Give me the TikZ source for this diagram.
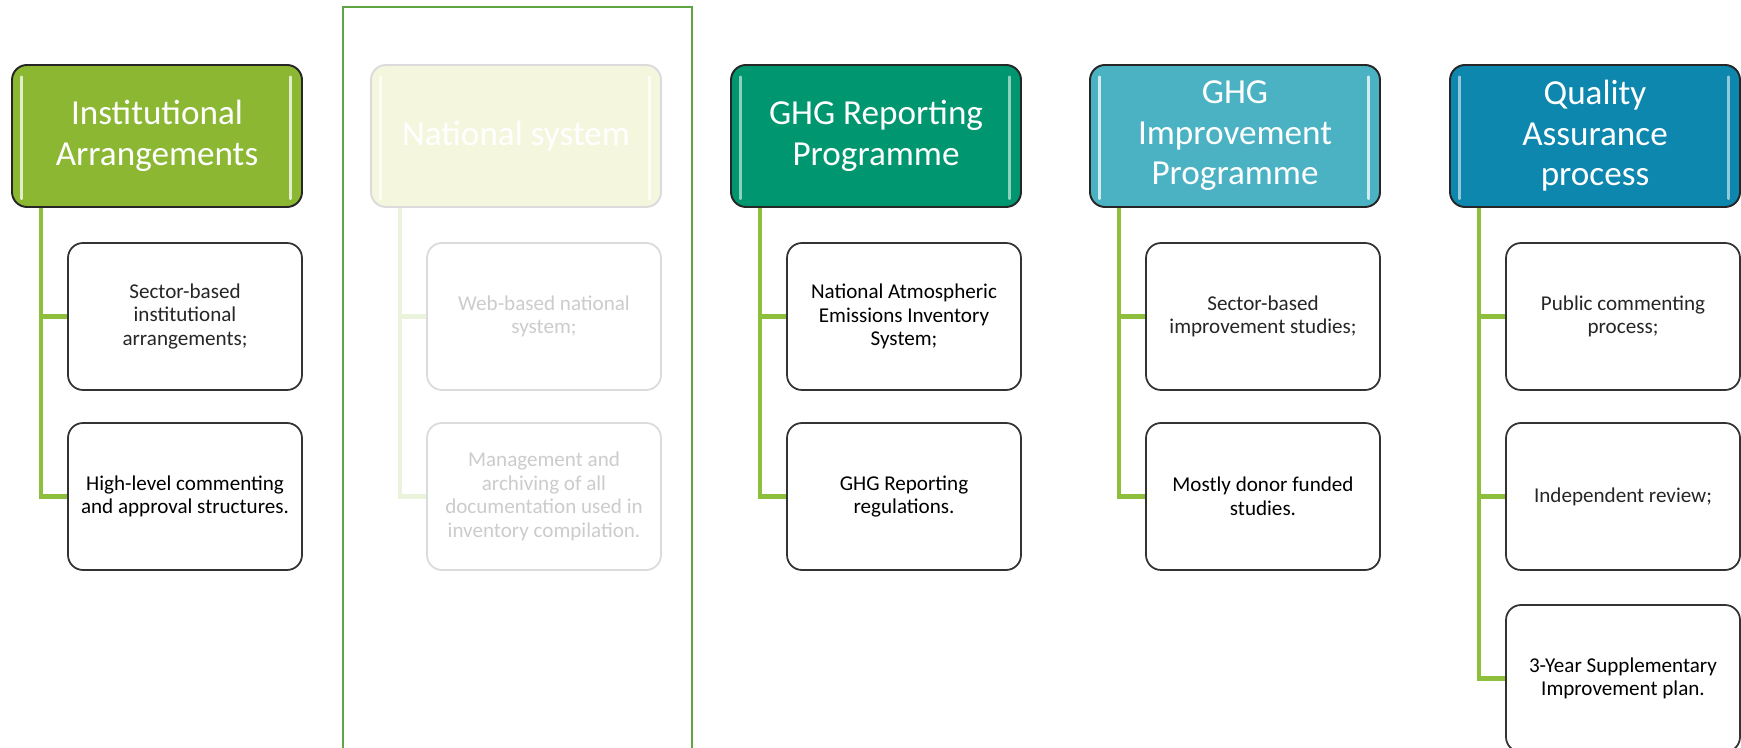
\documentclass[tikz,border=0pt]{standalone}
\usepackage{fontspec}
\setmainfont{Carlito}
\usepackage{xcolor}
\usetikzlibrary{positioning,calc}

\definecolor{iagreen}{HTML}{8BB733}
\definecolor{nsyellow}{HTML}{F4F7DE}
\definecolor{grpteal}{HTML}{00966F}
\definecolor{giplight}{HTML}{4BB2C4}
\definecolor{qablue}{HTML}{0E87AE}
\definecolor{branchgreen}{HTML}{8DBE3C}
\definecolor{framegreen}{HTML}{5FA544}

\begin{document}
\begin{tikzpicture}
  % Estilos
  \tikzstyle{header}=[rectangle, draw=black!85, line width=1.1pt, minimum width=5.8cm, minimum height=2.84cm, rounded corners=0.3cm, text=white, font=\fontsize{20}{23}\selectfont, align=center]
  \tikzstyle{item}=[rectangle, draw=black!80, line width=1pt, fill=white, minimum width=4.68cm, minimum height=2.94cm, rounded corners=0.3cm, font=\fontsize{12}{13.5}\selectfont, align=center]
  \tikzstyle{faded}=[draw=black!14, text=black!20]
  \tikzstyle{branch}=[draw=branchgreen, line width=2.3pt]
  \tikzstyle{fadedbranch}=[draw=branchgreen!18, line width=2.3pt]
  \tikzstyle{shine}=[line width=2.2pt, line cap=round]
  \tikzstyle{frame}=[draw=framegreen, line width=1.6pt]

  \useasboundingbox (0,0) rectangle (34.82,14.96);

  % Marco del sistema nacional
  \draw[frame] (6.86,-0.03) rectangle (13.84,14.82);

  % Cabeceras
  \node[header, fill=iagreen] (ia) at (3.14,12.24) {Institutional\\Arrangements};
  \node[header, fill=nsyellow, draw=black!14] (ns) at (10.32,12.24) {National system};
  \node[header, fill=grpteal] (grp) at (17.52,12.24) {GHG Reporting\\Programme};
  \node[header, fill=giplight] (gip) at (24.70,12.24) {GHG\\Improvement\\Programme};
  \node[header, fill=qablue] (qa) at (31.90,12.24) {Quality\\Assurance\\process};

  % Brillos laterales
  \draw[shine, iagreen!25!white] ([xshift=0.21cm,yshift=-0.27cm]ia.north west) -- ([xshift=0.21cm,yshift=0.2cm]ia.south west);
  \draw[shine, iagreen!25!white] ([xshift=-0.25cm,yshift=-0.27cm]ia.north east) -- ([xshift=-0.25cm,yshift=0.2cm]ia.south east);
  \draw[shine, white!70!nsyellow] ([xshift=0.21cm,yshift=-0.27cm]ns.north west) -- ([xshift=0.21cm,yshift=0.2cm]ns.south west);
  \draw[shine, white!70!nsyellow] ([xshift=-0.25cm,yshift=-0.27cm]ns.north east) -- ([xshift=-0.25cm,yshift=0.2cm]ns.south east);
  \draw[shine, grpteal!45!white] ([xshift=0.21cm,yshift=-0.27cm]grp.north west) -- ([xshift=0.21cm,yshift=0.2cm]grp.south west);
  \draw[shine, grpteal!45!white] ([xshift=-0.25cm,yshift=-0.27cm]grp.north east) -- ([xshift=-0.25cm,yshift=0.2cm]grp.south east);
  \draw[shine, giplight!25!white] ([xshift=0.21cm,yshift=-0.27cm]gip.north west) -- ([xshift=0.21cm,yshift=0.2cm]gip.south west);
  \draw[shine, giplight!25!white] ([xshift=-0.25cm,yshift=-0.27cm]gip.north east) -- ([xshift=-0.25cm,yshift=0.2cm]gip.south east);
  \draw[shine, qablue!45!white] ([xshift=0.21cm,yshift=-0.27cm]qa.north west) -- ([xshift=0.21cm,yshift=0.2cm]qa.south west);
  \draw[shine, qablue!45!white] ([xshift=-0.25cm,yshift=-0.27cm]qa.north east) -- ([xshift=-0.25cm,yshift=0.2cm]qa.south east);

  % Elementos
  \node[item, text=black!85] (ia1) at (3.70,8.63) {Sector-based\\institutional\\arrangements;};
  \node[item] (ia2) at (3.70,5.03) {High-level commenting\\and approval structures.};
  \node[item, faded] (ns1) at (10.88,8.63) {Web-based national\\system;};
  \node[item, faded] (ns2) at (10.88,5.03) {Management and\\archiving of all\\documentation used in\\inventory compilation.};
  \node[item] (grp1) at (18.08,8.63) {National Atmospheric\\Emissions Inventory\\System;};
  \node[item] (grp2) at (18.08,5.03) {GHG Reporting\\regulations.};
  \node[item, text=black!85] (gip1) at (25.26,8.63) {Sector-based\\improvement studies;};
  \node[item] (gip2) at (25.26,5.03) {Mostly donor funded\\studies.};
  \node[item, text=black!85] (qa1) at (32.46,8.63) {Public commenting\\process;};
  \node[item, text=black!85] (qa2) at (32.46,5.03) {Independent review;};
  \node[item] (qa3) at (32.46,1.39) {3-Year Supplementary\\Improvement plan.};

  % Conexiones cabecera-elemento
  \draw[branch] ([xshift=0.6cm]ia.south west) |- (ia1.west);
  \draw[branch] ([xshift=0.6cm]ia.south west) |- (ia2.west);
  \draw[fadedbranch] ([xshift=0.6cm]ns.south west) |- (ns1.west);
  \draw[fadedbranch] ([xshift=0.6cm]ns.south west) |- (ns2.west);
  \draw[branch] ([xshift=0.6cm]grp.south west) |- (grp1.west);
  \draw[branch] ([xshift=0.6cm]grp.south west) |- (grp2.west);
  \draw[branch] ([xshift=0.6cm]gip.south west) |- (gip1.west);
  \draw[branch] ([xshift=0.6cm]gip.south west) |- (gip2.west);
  \draw[branch] ([xshift=0.6cm]qa.south west) |- (qa1.west);
  \draw[branch] ([xshift=0.6cm]qa.south west) |- (qa2.west);
  \draw[branch] ([xshift=0.6cm]qa.south west) |- (qa3.west);
\end{tikzpicture}
\end{document}
